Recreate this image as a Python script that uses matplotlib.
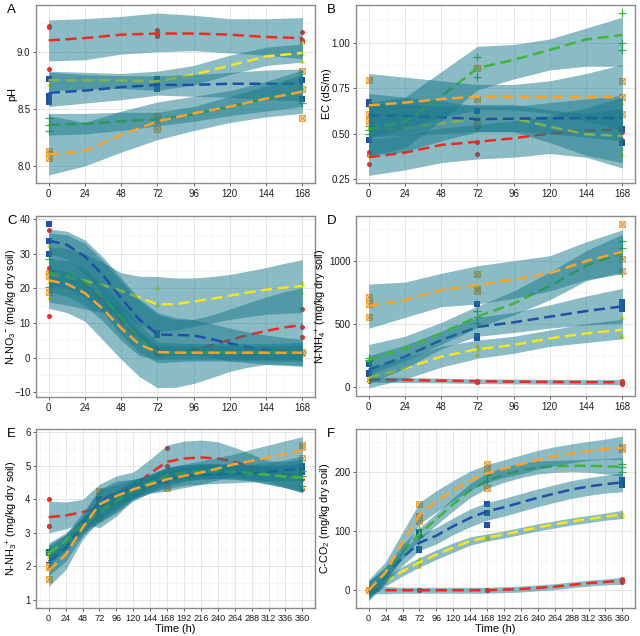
import matplotlib
matplotlib.use('Agg')
import matplotlib.pyplot as plt
from matplotlib.ticker import MultipleLocator

plt.rcParams['font.family'] = ['Liberation Sans', 'DejaVu Sans']
plt.rcParams['mathtext.fontset'] = 'custom'
plt.rcParams['mathtext.rm'] = 'Liberation Sans'
plt.rcParams['mathtext.it'] = 'Liberation Sans:italic'
plt.rcParams['axes.unicode_minus'] = True

# treatments: red, yellow, blue, green, orange (drawing order of the smooths)
colors = ['#ee2a24', '#f2e61c', '#1f4fa6', '#3cb63c', '#f9a22e']
markers = ['o', '^', 's', '+', 'boxx']

# time grids
t_short = [0, 24, 48, 72, 96, 120, 144, 168]
t_half = [0, 12, 24, 36, 48, 60, 72, 84, 96, 108, 120, 132, 144, 156, 168]
t_long = [0, 24, 48, 72, 96, 120, 144, 168, 192, 216, 240, 264, 288, 312, 336, 360]
obs_short = [0, 72, 168]
obs_long = [0, 72, 168, 360]

# ---- A: pH
ph_fit = [[9.10, 9.12, 9.15, 9.16, 9.16, 9.15, 9.13, 9.12],
          [8.75, 8.75, 8.75, 8.74, 8.80, 8.88, 8.96, 8.99],
          [8.64, 8.66, 8.69, 8.71, 8.71, 8.72, 8.72, 8.72],
          [8.36, 8.37, 8.39, 8.41, 8.45, 8.52, 8.59, 8.66],
          [8.10, 8.13, 8.27, 8.39, 8.46, 8.52, 8.59, 8.65]]
ph_hi = [[9.28, 9.29, 9.31, 9.34, 9.32, 9.29, 9.29, 9.30],
         [8.83, 8.82, 8.81, 8.83, 8.88, 8.97, 9.04, 9.07],
         [8.82, 8.80, 8.79, 8.79, 8.80, 8.82, 8.84, 8.85],
         [8.46, 8.46, 8.47, 8.47, 8.52, 8.61, 8.70, 8.80],
         [8.44, 8.38, 8.48, 8.56, 8.61, 8.66, 8.74, 8.84]]
ph_lo = [[8.92, 8.93, 8.98, 9.00, 9.01, 8.99, 8.97, 8.94],
         [8.66, 8.67, 8.68, 8.66, 8.71, 8.80, 8.88, 8.91],
         [8.52, 8.55, 8.58, 8.62, 8.61, 8.60, 8.58, 8.57],
         [8.27, 8.28, 8.31, 8.35, 8.39, 8.44, 8.48, 8.52],
         [7.92, 8.00, 8.12, 8.23, 8.31, 8.38, 8.43, 8.46]]
ph_pts = [[[9.23, 8.85, 9.22], [9.19, 9.16, 9.14], [9.17, 9.10, 9.09]],
          [[8.72, 8.76, 8.78], [8.77, 8.73, 8.72], [9.09, 8.99, 8.92]],
          [[8.76, 8.61, 8.56], [8.76, 8.71, 8.67], [8.83, 8.75, 8.59]],
          [[8.42, 8.36, 8.31], [8.44, 8.40, 8.32], [8.69, 8.67, 8.55]],
          [[8.13, 8.10, 8.07], [8.44, 8.40, 8.32], [8.83, 8.67, 8.42]]]

# ---- B: EC
ec_fit = [[0.370, 0.395, 0.437, 0.455, 0.474, 0.500, 0.516, 0.523],
          [0.523, 0.530, 0.556, 0.584, 0.584, 0.538, 0.496, 0.487],
          [0.600, 0.598, 0.589, 0.580, 0.582, 0.584, 0.585, 0.585],
          [0.523, 0.565, 0.703, 0.860, 0.905, 0.960, 1.018, 1.042],
          [0.655, 0.670, 0.690, 0.703, 0.700, 0.700, 0.700, 0.700]]
ec_hi = [[0.47, 0.49, 0.53, 0.55, 0.57, 0.60, 0.64, 0.70],
         [0.67, 0.66, 0.65, 0.66, 0.66, 0.63, 0.61, 0.64],
         [0.72, 0.70, 0.68, 0.65, 0.65, 0.67, 0.69, 0.71],
         [0.67, 0.70, 0.84, 0.98, 0.99, 1.02, 1.08, 1.14],
         [0.83, 0.81, 0.79, 0.77, 0.77, 0.79, 0.83, 0.88]]
ec_lo = [[0.27, 0.30, 0.34, 0.36, 0.37, 0.39, 0.37, 0.31],
         [0.38, 0.40, 0.46, 0.51, 0.51, 0.45, 0.38, 0.34],
         [0.48, 0.49, 0.50, 0.51, 0.51, 0.50, 0.48, 0.46],
         [0.38, 0.42, 0.57, 0.74, 0.80, 0.85, 0.87, 0.87],
         [0.48, 0.53, 0.59, 0.63, 0.63, 0.61, 0.57, 0.52]]
ec_pts = [[[0.33, 0.38, 0.40], [0.39, 0.455, 0.53], [0.60, 0.465, 0.51]],
          [[0.38, 0.65, 0.53], [0.56, 0.59, 0.60], [0.667, 0.42, 0.386]],
          [[0.675, 0.465, 0.66], [0.624, 0.56, 0.55], [0.523, 0.45, 0.79]],
          [[0.52, 0.50, 0.54], [0.923, 0.81, 0.86], [1.165, 0.996, 0.96]],
          [[0.795, 0.606, 0.569], [0.86, 0.69, 0.55], [0.79, 0.70, 0.606]]]

# ---- C: N-NO3 (read every 12 h, the curves bend sharply here)
no3_fit = [[25.0, 24.0, 21.4, 16.5, 10.4, 5.5, 2.0, 1.6, 2.2, 3.6, 5.1, 6.5, 7.7, 8.7, 9.4],
           [24.0, 23.3, 22.2, 20.9, 19.3, 17.3, 15.4, 15.4, 16.2, 17.0, 17.9, 18.8, 19.6, 20.2, 20.7],
           [33.8, 32.6, 29.2, 23.8, 17.2, 11.0, 6.7, 6.5, 6.4, 5.3, 4.1, 3.0, 2.2, 1.7, 1.4],
           [24.5, 24.0, 21.8, 17.2, 11.4, 5.5, 1.5, 1.5, 1.5, 1.5, 1.5, 1.5, 1.5, 1.5, 1.5],
           [22.3, 21.3, 18.6, 14.0, 8.5, 3.8, 1.6, 1.4, 1.4, 1.4, 1.4, 1.4, 1.4, 1.4, 1.4]]
no3_hi = [[36.0, 35.5, 33.0, 28.0, 22.0, 16.5, 12.5, 11.0, 11.0, 12.3, 14.0, 15.8, 17.5, 19.0, 20.2],
          [32.0, 31.5, 30.0, 27.5, 24.5, 23.5, 23.4, 23.0, 23.0, 23.4, 24.0, 25.0, 26.0, 27.2, 28.3],
          [37.2, 36.5, 34.0, 29.0, 23.0, 17.0, 13.0, 11.5, 11.0, 9.8, 8.5, 7.4, 6.5, 5.8, 5.3],
          [28.5, 28.0, 25.5, 21.0, 15.5, 9.5, 4.5, 4.2, 4.0, 4.0, 4.0, 4.0, 4.0, 4.2, 4.5],
          [25.8, 24.8, 22.0, 18.0, 13.0, 7.5, 3.5, 3.3, 3.3, 3.3, 3.3, 3.3, 3.3, 3.4, 3.6]]
no3_lo = [[14.2, 13.0, 10.5, 5.0, -0.5, -5.5, -8.7, -8.6, -7.5, -5.8, -4.0, -2.8, -2.0, -2.0, -2.4],
          [16.0, 15.2, 14.0, 13.0, 12.0, 9.5, 7.6, 8.0, 9.0, 10.0, 11.0, 11.8, 12.5, 12.8, 13.0],
          [30.0, 28.5, 24.0, 18.5, 12.0, 5.5, 0.4, 0.6, 1.0, 0.0, -1.0, -1.5, -2.0, -2.3, -2.5],
          [20.5, 20.0, 17.5, 13.0, 6.5, 1.5, -1.5, -1.2, -1.0, -1.0, -1.0, -1.0, -1.0, -1.1, -1.2],
          [18.8, 17.8, 15.0, 10.5, 5.0, 0.5, -0.5, -0.5, -0.5, -0.5, -0.5, -0.5, -0.5, -0.5, -0.6]]
no3_pts = [[[36.9, 26.0, 12.0], [2.2, 1.5, 2.5], [14.1, 8.7, 6.0]],
           [[32.4, 22.2, 17.6], [20.3, 15.4, 10.7], [21.9, 21.3, 19.0]],
           [[38.6, 33.8, 30.0], [6.7, 7.0, 6.5], [1.5, 1.6, 1.2]],
           [[28.5, 24.5, 20.5], [1.5, 1.8, 1.2], [1.5, 1.8, 1.3]],
           [[24.4, 23.7, 18.9], [1.5, 1.3, 1.7], [1.45, 1.3, 1.6]]]

# ---- D: N-NH4
nh4_fit = [[55, 53, 48, 43, 40, 38, 36, 35],
           [70, 145, 238, 298, 331, 384, 423, 452],
           [135, 238, 370, 474, 511, 556, 600, 638],
           [214, 304, 423, 556, 660, 800, 960, 1060],
           [640, 688, 767, 807, 852, 900, 997, 1071]]
nh4_hi = [[75, 73, 67, 62, 60, 58, 57, 58],
          [150, 230, 320, 370, 400, 450, 500, 535],
          [245, 330, 440, 550, 590, 650, 720, 780],
          [335, 400, 510, 640, 760, 910, 1080, 1210],
          [815, 830, 900, 960, 1000, 1040, 1150, 1245]]
nh4_lo = [[35, 33, 30, 25, 22, 20, 17, 14],
          [-10, 60, 155, 225, 265, 320, 350, 380],
          [25, 145, 300, 400, 430, 465, 490, 505],
          [95, 205, 335, 470, 570, 690, 840, 910],
          [463, 550, 635, 656, 700, 760, 850, 895]]
nh4_pts = [[[55, 45, 60], [40, 45, 35], [35, 25, 45]],
           [[66, 75, 50], [304, 257, 330], [556, 410, 400]],
           [[180, 111, 100], [659, 384, 400], [675, 617, 640]],
           [[230, 200, 210], [600, 550, 503], [1156, 1100, 905]],
           [[709, 656, 556], [894, 775, 760], [1289, 1011, 915]]]

# ---- E: N-NH3
nh3_fit = [[3.47, 3.52, 3.62, 3.75, 4.15, 4.38, 4.78, 5.12, 5.22, 5.25, 5.22, 5.12, 4.98, 4.85, 4.75, 4.70],
           [2.35, 2.70, 3.20, 3.60, 3.92, 4.25, 4.48, 4.68, 4.78, 4.83, 4.84, 4.82, 4.78, 4.73, 4.68, 4.65],
           [2.15, 2.55, 3.25, 3.95, 4.20, 4.32, 4.45, 4.58, 4.68, 4.72, 4.75, 4.78, 4.78, 4.82, 4.87, 4.93],
           [2.40, 2.75, 3.25, 3.65, 3.95, 4.30, 4.50, 4.72, 4.80, 4.85, 4.85, 4.82, 4.78, 4.73, 4.68, 4.65],
           [1.87, 2.35, 3.15, 3.85, 4.10, 4.30, 4.45, 4.60, 4.70, 4.80, 4.92, 5.05, 5.15, 5.25, 5.35, 5.47]]
nh3_hi = [[3.95, 3.92, 4.00, 4.45, 4.70, 4.82, 5.20, 5.62, 5.74, 5.77, 5.72, 5.55, 5.35, 5.15, 5.12, 5.20],
          [2.65, 2.95, 3.45, 3.90, 4.25, 4.55, 4.75, 4.95, 5.02, 5.05, 5.05, 5.02, 5.00, 4.98, 5.00, 5.05],
          [2.60, 2.95, 3.60, 4.30, 4.55, 4.60, 4.70, 4.85, 4.95, 5.00, 5.02, 5.05, 5.05, 5.10, 5.18, 5.30],
          [2.70, 3.00, 3.45, 3.95, 4.25, 4.55, 4.75, 4.95, 5.03, 5.07, 5.07, 5.05, 5.02, 5.00, 5.02, 5.10],
          [2.35, 2.75, 3.50, 4.30, 4.45, 4.60, 4.72, 4.95, 5.05, 5.15, 5.25, 5.35, 5.50, 5.62, 5.75, 5.87]]
nh3_lo = [[3.00, 3.12, 3.30, 3.15, 3.50, 4.00, 4.35, 4.60, 4.70, 4.73, 4.72, 4.68, 4.60, 4.55, 4.35, 4.20],
          [2.05, 2.45, 2.95, 3.30, 3.60, 3.95, 4.20, 4.40, 4.53, 4.60, 4.62, 4.60, 4.55, 4.45, 4.35, 4.25],
          [1.72, 2.15, 2.90, 3.60, 3.85, 4.05, 4.20, 4.32, 4.42, 4.45, 4.48, 4.50, 4.52, 4.55, 4.57, 4.57],
          [2.10, 2.50, 3.05, 3.35, 3.65, 4.05, 4.25, 4.48, 4.57, 4.62, 4.63, 4.60, 4.55, 4.45, 4.35, 4.20],
          [1.40, 1.90, 2.80, 3.40, 3.75, 4.00, 4.18, 4.25, 4.35, 4.45, 4.58, 4.70, 4.80, 4.88, 4.95, 5.07]]
nh3_pts = [[[4.01, 3.20, 3.20], [3.70, 3.80, 3.75], [5.52, 5.00, 4.85], [5.22, 4.60, 4.30]],
           [[2.35, 2.40, 2.30], [3.60, 3.70, 3.50], [4.65, 4.70, 4.75], [4.41, 4.70, 4.85]],
           [[2.42, 2.00, 2.05], [4.00, 3.90, 3.95], [4.60, 4.55, 4.60], [4.83, 5.00, 4.95]],
           [[2.40, 2.45, 2.35], [3.44, 3.70, 3.80], [4.70, 4.75, 4.70], [4.41, 4.70, 4.85]],
           [[1.99, 1.62, 2.00], [4.25, 3.44, 3.85], [4.33, 4.70, 4.80], [5.62, 5.22, 5.55]]]

# ---- F: C-CO2
co2_fit = [[0, 0, 0, 0, 0, 0, 0, 0, 1, 2, 4, 6, 9, 12, 14, 16],
           [0, 15, 32, 47, 60, 72, 83, 89, 94, 100, 106, 111, 116, 120, 124, 128],
           [0, 25, 55, 80, 92, 108, 122, 133, 140, 148, 156, 163, 170, 175, 179, 182],
           [0, 28, 65, 95, 120, 145, 168, 185, 195, 202, 207, 209, 210, 210, 209, 208],
           [0, 30, 80, 127, 150, 168, 185, 197, 205, 212, 220, 226, 231, 235, 238, 240]]
co2_hi = [[6, 6, 5, 5, 5, 5, 5, 5, 6, 7, 9, 11, 14, 17, 19, 22],
          [10, 23, 40, 55, 68, 80, 90, 95, 100, 106, 112, 117, 122, 126, 130, 135],
          [15, 38, 68, 93, 106, 122, 137, 148, 155, 163, 171, 178, 185, 190, 194, 198],
          [15, 40, 77, 105, 130, 156, 180, 198, 208, 214, 218, 219, 220, 221, 222, 224],
          [18, 48, 98, 148, 168, 185, 201, 212, 220, 228, 236, 242, 247, 251, 255, 260]]
co2_lo = [[-6, -6, -5, -5, -5, -5, -5, -5, -4, -3, -1, 1, 4, 7, 9, 10],
          [-10, 7, 24, 39, 52, 64, 76, 83, 88, 94, 100, 105, 110, 114, 118, 121],
          [-15, 12, 42, 67, 78, 94, 107, 118, 125, 133, 141, 148, 155, 160, 164, 166],
          [-15, 16, 53, 85, 110, 134, 156, 172, 182, 190, 196, 199, 200, 199, 196, 192],
          [-18, 12, 62, 112, 132, 151, 169, 182, 190, 196, 204, 210, 215, 219, 221, 220]]
co2_pts = [[[0, 0, 0], [0, 0, 0], [0, 0, 0], [19.7, 14, 17]],
           [[0, 0, 0], [55, 41, 48], [89, 88, 92], [131, 125, 128]],
           [[0, 0, 0], [97, 70, 68], [145, 110, 130], [186, 178, 182]],
           [[0, 0, 0], [103, 92, 90], [185, 195, 178], [213, 200, 208]],
           [[0, 0, 0], [145, 126, 117], [213, 206, 173], [241, 238, 242]]]

band_col = '#19798b'
fig = plt.figure(figsize=(6.4, 6.36), dpi=100)


def panel(box, letter, t_fit, fit, lo, hi, t_obs, pts, ylab, ylim, yticks, ylabels,
          ymin, xmax, ylab_x, xlab=None):
    l, t, r, b = box
    ax = fig.add_axes([l / 640, 1 - b / 636, (r - l) / 640, (b - t) / 636])
    # raw points underneath the ribbons
    for i in range(5):
        xs, ys = [], []
        for k, tt in enumerate(t_obs):
            for v in pts[i][k]:
                xs.append(tt)
                ys.append(v)
        if markers[i] == 'boxx':
            ax.scatter(xs, ys, s=16, marker='s', facecolors='#fbd7a8', edgecolors=colors[i],
                       linewidths=0.7, zorder=2)
            ax.scatter(xs, ys, s=10, marker='x', color='#d8893a', linewidths=0.6, zorder=2)
        elif markers[i] == '+':
            ax.scatter(xs, ys, s=28, marker='+', color=colors[i], linewidths=0.9, zorder=2)
        else:
            ax.scatter(xs, ys, s=13, marker=markers[i], color=colors[i], linewidths=0, zorder=2)
    # smooths: ribbon then dashed line, group by group
    for i in range(5):
        ax.fill_between(t_fit, lo[i], hi[i], color=band_col, alpha=0.5, linewidth=0,
                        zorder=3 + 2 * i)
        ax.plot(t_fit, fit[i], color=colors[i], lw=1.8, dashes=(4.5, 2.2), zorder=4 + 2 * i)
    ax.set_xlim(-0.05 * xmax, 1.05 * xmax)
    ax.set_ylim(*ylim)
    ax.set_xticks(list(range(0, xmax + 1, 24)))
    ax.xaxis.set_minor_locator(MultipleLocator(12))
    ax.set_yticks(yticks)
    ax.set_yticklabels(ylabels)
    ax.yaxis.set_minor_locator(MultipleLocator(ymin))
    ax.grid(True, which='major', color='#e6e6e6', lw=0.7, zorder=0)
    ax.grid(True, which='minor', color='#efefef', lw=0.4, zorder=0)
    ax.set_axisbelow(True)
    for s in ax.spines.values():
        s.set_color('#8a8a8a')
        s.set_linewidth(1.0)
    ax.tick_params(which='major', length=2.5, width=0.6, color='#444444', labelsize=6.9,
                   labelcolor='#1a1a1a', pad=1.5)
    if xmax > 200:
        ax.tick_params(axis='x', labelsize=6.6)
    ax.tick_params(which='minor', length=0)
    ax.set_ylabel(ylab, fontsize=7.8)
    ax.yaxis.set_label_coords(ylab_x, 0.5)
    if xlab:
        ax.set_xlabel(xlab, fontsize=7.8, labelpad=1)
    fig.text((l - 29) / 640, 1 - (t - 1) / 636, letter, fontsize=9.5, va='top', ha='left')
    return ax


panel((36, 5, 315, 183), 'A', t_short, ph_fit, ph_lo, ph_hi, obs_short, ph_pts,
      'pH', (7.85, 9.41), [8.0, 8.5, 9.0], ['8.0', '8.5', '9.0'], 0.25, 168, -0.068)
panel((356, 5, 635, 183), 'B', t_short, ec_fit, ec_lo, ec_hi, obs_short, ec_pts,
      'EC (dS/m)', (0.228, 1.207), [0.25, 0.5, 0.75, 1.0], ['0.25', '0.50', '0.75', '1.00'],
      0.125, 168, -0.087)
panel((36, 216, 315, 397), 'C', t_half, no3_fit, no3_lo, no3_hi, obs_short, no3_pts,
      r'N-NO$_3$$^{-}$ (mg/kg dry soil)', (-11.4, 40.9), [-10, 0, 10, 20, 30, 40],
      ['\u221210', '0', '10', '20', '30', '40'], 5, 168, -0.066)
panel((356, 216, 635, 396), 'D', t_short, nh4_fit, nh4_lo, nh4_hi, obs_short, nh4_pts,
      r'N-NH$_4$$^{+}$ (mg/kg dry soil)', (-74, 1355), [0, 500, 1000], ['0', '500', '1000'],
      250, 168, -0.098)
panel((36, 429, 315, 608), 'E', t_long, nh3_fit, nh3_lo, nh3_hi, obs_long, nh3_pts,
      r'N-NH$_3$$^{+}$ (mg/kg dry soil)', (0.76, 6.1), [1, 2, 3, 4, 5, 6],
      ['1', '2', '3', '4', '5', '6'], 0.5, 360, -0.056, 'Time (h)')
panel((356, 429, 635, 608), 'F', t_long, co2_fit, co2_lo, co2_hi, obs_long, co2_pts,
      r'C-CO$_2$ (mg/kg dry soil)', (-30, 272), [0, 100, 200], ['0', '100', '200'],
      50, 360, -0.087, 'Time (h)')

fig.savefig('out.png', dpi=100)
